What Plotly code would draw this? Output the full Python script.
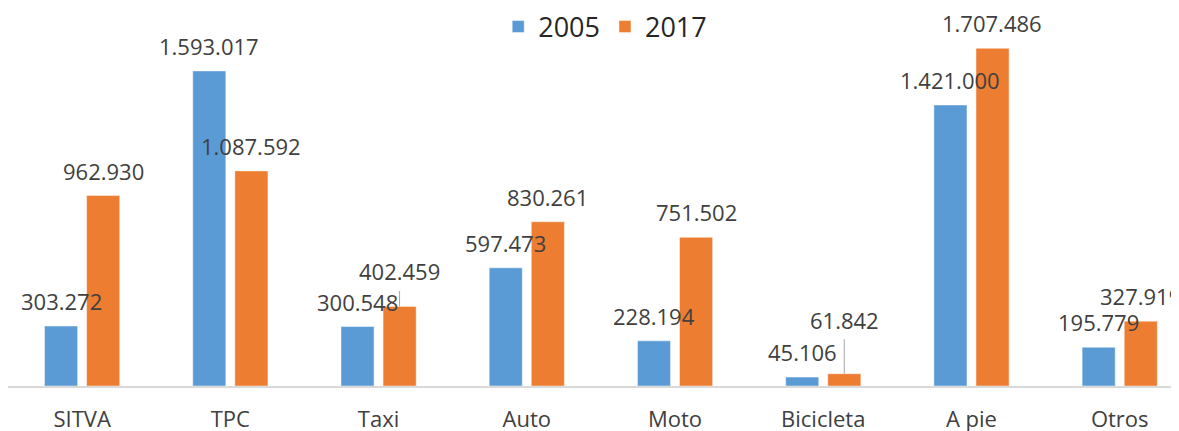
import plotly.graph_objects as go

categories = ["SITVA", "TPC", "Taxi", "Auto", "Moto", "Bicicleta", "A pie", "Otros"]
series_names = ["2005", "2017"]
values_2005 = [303272, 1593017, 300548, 597473, 228194, 45106, 1421000, 195779]
values_2017 = [962930, 1087592, 402459, 830261, 751502, 61842, 1707486, 327919]
colors = ["#5B9BD5", "#ED7D31"]

# labels moved up with a leader line (index -> extra pixel lift), per series
lifted = {("2017", 2): 35, ("2017", 5): 54}

FONT = "Open Sans"
LABEL_SIZE = 22


def fmt(v):
    return f"{v:,}".replace(",", ".")


fig = go.Figure()
for name, vals, col in zip(series_names, [values_2005, values_2017], colors):
    fig.add_trace(go.Bar(
        name=name, x=categories, y=vals,
        marker=dict(color=col, line=dict(color="rgba(255,255,255,0.45)", width=1)),
    ))

annotations = []
slot_px = 21  # half-slot offset of each bar from category centre
for si, (name, vals) in enumerate(zip(series_names, [values_2005, values_2017])):
    xs = -slot_px if si == 0 else slot_px
    for ci, (cat, v) in enumerate(zip(categories, vals)):
        key = (name, ci)
        if key in lifted:
            annotations.append(dict(
                x=cat, y=v, xref="x", yref="y", text=fmt(v), xshift=xs,
                showarrow=True, arrowhead=0, arrowwidth=1, arrowcolor="#A6A6A6",
                ax=0, ay=-lifted[key], startstandoff=3, standoff=0,
                font=dict(family=FONT, size=LABEL_SIZE, color="#404040"),
            ))
        else:
            annotations.append(dict(
                x=cat, y=v, xref="x", yref="y", text=fmt(v), xshift=xs, yshift=25,
                showarrow=False, yanchor="middle", xanchor="center",
                font=dict(family=FONT, size=LABEL_SIZE, color="#404040"),
            ))

fig.update_layout(
    width=1171, height=423,
    margin=dict(l=0, r=0, t=22, b=45, autoexpand=False),
    paper_bgcolor="white", plot_bgcolor="white",
    barmode="group", bargap=0.432, bargroupgap=0.214,
    font=dict(family=FONT, color="#404040"),
    legend=dict(orientation="h", x=0.51, xanchor="center",
                yref="container", y=0.955, yanchor="middle",
                font=dict(family=FONT, size=27, color="#262626"),
                itemwidth=30, tracegroupgap=0),
    annotations=annotations,
    showlegend=True,
)
fig.update_xaxes(range=[-0.5, 7.4], showline=True, linecolor="#D9D9D9", linewidth=1.5,
                 ticks="", showgrid=False, zeroline=False,
                 tickfont=dict(family=FONT, size=22, color="#404040"),
                 ticklabelstandoff=13)
fig.update_yaxes(range=[0, 1.8e6], showgrid=False, zeroline=False,
                 showticklabels=False, showline=False)

fig.write_html("out.html")
